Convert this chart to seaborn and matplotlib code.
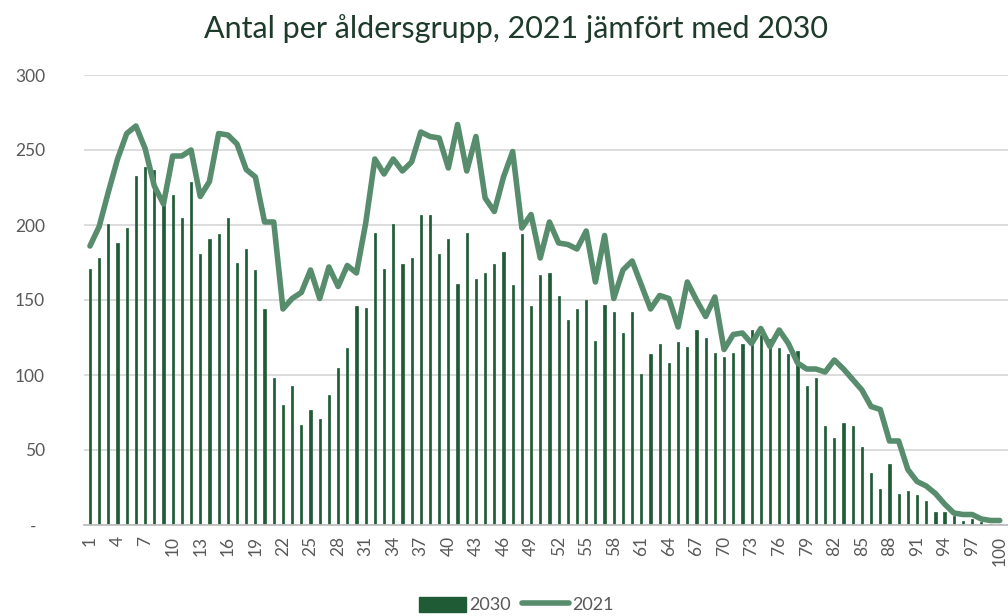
import numpy as np
import pandas as pd
import matplotlib
matplotlib.use("Agg")
import matplotlib.pyplot as plt
from matplotlib.patches import Patch
from matplotlib.lines import Line2D
from matplotlib.ticker import FuncFormatter
import seaborn as sns

# ålder 1..100
ages = list(range(1, 101))

antal_2030 = [
    171, 178, 201, 188, 198, 233, 239, 237, 216, 220,
    205, 229, 181, 191, 194, 205, 175, 184, 170, 144,
    98, 80, 93, 67, 77, 71, 87, 105, 118, 146,
    145, 195, 171, 201, 174, 178, 207, 207, 181, 191,
    161, 195, 164, 168, 174, 182, 160, 194, 146, 167,
    168, 153, 137, 144, 150, 123, 147, 142, 128, 142,
    101, 114, 121, 108, 122, 119, 130, 125, 115, 112,
    115, 121, 130, 127, 124, 118, 114, 116, 93, 98,
    66, 58, 68, 66, 52, 35, 24, 41, 21, 23,
    20, 16, 9, 9, 6, 3, 4, 2, 1, 1,
]

antal_2021 = [
    186, 199, 222, 244, 261, 266, 251, 226, 214, 246,
    246, 250, 219, 229, 261, 260, 254, 237, 232, 202,
    202, 144, 151, 155, 170, 151, 172, 159, 173, 168,
    201, 244, 234, 244, 236, 242, 262, 259, 258, 238,
    267, 236, 259, 218, 209, 232, 249, 198, 207, 178,
    202, 188, 187, 184, 196, 162, 193, 151, 170, 176,
    160, 144, 153, 151, 132, 162, 150, 139, 152, 117,
    127, 128, 121, 131, 119, 130, 121, 108, 104, 104,
    102, 110, 104, 97, 90, 79, 77, 56, 56, 37,
    29, 26, 21, 14, 8, 7, 7, 4, 3, 3,
]

tick_ages = ages[::3]

BAR_COLOR = "#1F5C36"
LINE_COLOR = "#578C6D"
TEXT_COLOR = "#595959"
TITLE_COLOR = "#1E3A2A"

sns.set_theme(style="white")
plt.rcParams["font.family"] = ["Lato", "DejaVu Sans"]

df = pd.DataFrame({"age": ages, "2030": antal_2030, "2021": antal_2021})

fig = plt.figure(figsize=(10.08, 6.16), dpi=100)
ax = fig.add_axes([84 / 1008, 91 / 616, 924 / 1008, 450 / 616])

ax.set_axisbelow(True)
ax.yaxis.grid(True, color="#D9D9D9", linewidth=1.3)

sns.barplot(data=df, x="age", y="2030", native_scale=True, width=0.24,
            color=BAR_COLOR, saturation=1, edgecolor=BAR_COLOR, linewidth=0.5,
            ax=ax, zorder=2)
sns.lineplot(data=df, x="age", y="2021", color=LINE_COLOR, linewidth=4,
             ax=ax, zorder=3)

ax.set_xlim(0.35, 100.9)
ax.set_ylim(0, 300)
ax.set_yticks([0, 50, 100, 150, 200, 250, 300])
ax.yaxis.set_major_formatter(FuncFormatter(lambda v, p: "-  " if v == 0 else f"{int(v)}"))
ax.set_xticks(tick_ages)
ax.set_xticklabels([str(a) for a in tick_ages], rotation=90)
ax.set_xlabel("")
ax.set_ylabel("")

for s in ["top", "right", "left"]:
    ax.spines[s].set_visible(False)
ax.spines["bottom"].set_color("#BFBFBF")
ax.spines["bottom"].set_linewidth(1.3)

ax.tick_params(axis="y", length=0, pad=28, labelsize=12.5, labelcolor=TEXT_COLOR)
ax.tick_params(axis="x", length=0, pad=8, labelsize=12.5, labelcolor=TEXT_COLOR)

fig.text(0.512, 0.953, "Antal per åldersgrupp, 2021 jämfört med 2030",
         ha="center", va="center", fontsize=22, color=TITLE_COLOR)

handles = [Patch(facecolor=BAR_COLOR, edgecolor=BAR_COLOR),
           Line2D([0], [0], color=LINE_COLOR, linewidth=4)]
fig.legend(handles, ["2030", "2021"], loc="center", bbox_to_anchor=(0.512, 0.018),
           ncol=2, frameon=False, fontsize=13, handlelength=2.6, handleheight=0.9,
           columnspacing=0.6, handletextpad=0.2, labelcolor=TEXT_COLOR)

fig.savefig("out.png", dpi=100)
